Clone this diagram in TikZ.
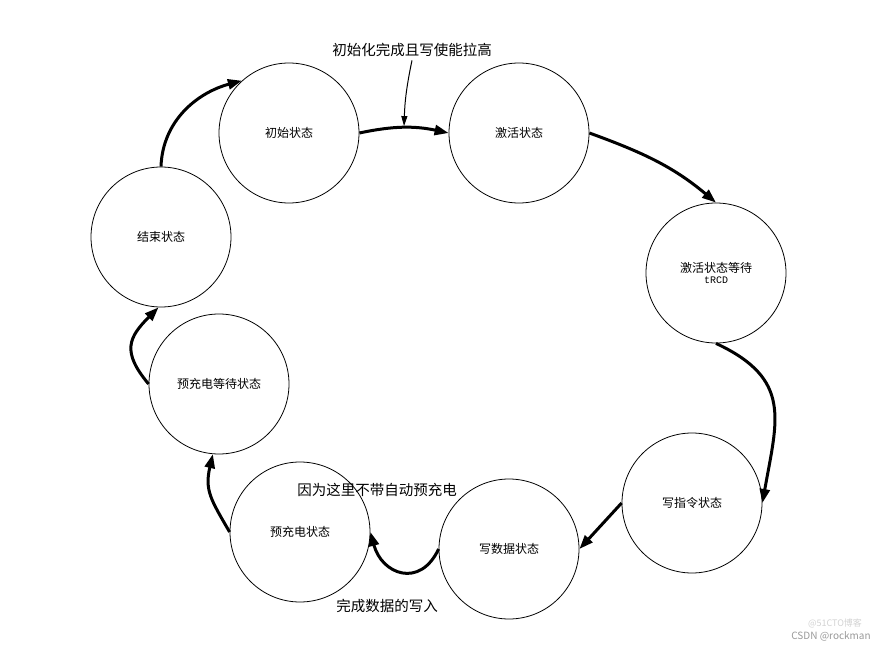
\documentclass[tikz,border=0pt]{standalone}
\usepackage{fontspec}
\setmainfont{Noto Sans CJK SC}
\newfontfamily\monofont{Liberation Mono}
\usetikzlibrary{arrows.meta}

\begin{document}
\begin{tikzpicture}[x=1pt, y=-1pt,
  etat/.style={circle, draw, line width=0.8pt, minimum size=140pt, inner sep=0pt, font=\fontsize{12}{14}\selectfont},
  trans/.style={line width=3pt, -{Triangle[length=14pt, width=10pt]}},
  note/.style={font=\fontsize{14.5}{16}\selectfont}]
\useasboundingbox (0,0) rectangle (895,650);

\node [etat] (init) at (289,133) {初始状态};
\node [etat] (act) at (519,133) {激活状态};
\node [etat, align=center] (wait) at (716,273) {激活状态等待\\[-3pt]{\monofont\fontsize{10}{12}\selectfont tRCD}};
\node [etat] (wcmd) at (692,503) {写指令状态};
\node [etat] (wdata) at (509,549) {写数据状态};
\node [etat] (pre) at (300,532) {预充电状态};
\node [etat] (prew) at (219,384) {预充电等待状态};
\node [etat] (final) at (161,237) {结束状态};

\node [note] (lblinit) at (412,50) {初始化完成且写使能拉高};
\node [note] (lblpre) at (377,490) {因为这里不带自动预充电};
\node [note] (lbldata) at (387,606) {完成数据的写入};

\draw [trans] (final.north) to[out=88, in=195] (init.132);
\draw [trans] (init.east) to[out=12, in=168] coordinate[pos=0.5] (top) (act.west);
\draw [trans] (act.east) to[out=-20, in=140] (wait.north);
\draw [trans] (wait.south) to[out=-25, in=80, looseness=1.3] (wcmd.east);
\draw [trans] (wcmd.west) -- (wdata.east);
\draw [trans] (wdata.west) to[out=-115, in=-75, looseness=1.6] (pre.east);
\draw [trans] (pre.west) to[out=120, in=-103, looseness=1.2] (prew.-95);
\draw [trans] (prew.west) to[out=130, in=-135, looseness=1.4] (final.-92);

\draw [line width=1pt, -{Triangle[length=10pt, width=6pt]}, shorten >=1.5pt] (lblinit.south) to[bend right=5] (top);

\node [text=gray!35, font=\fontsize{9}{10}\selectfont, inner sep=0pt] (wmcto) at (835,623) {@51CTO博客};
\node [text=gray!80, font=\fontsize{10}{11}\selectfont, inner sep=0pt] (wmcsdn) at (831,636) {CSDN @rockman};

\end{tikzpicture}
\end{document}
